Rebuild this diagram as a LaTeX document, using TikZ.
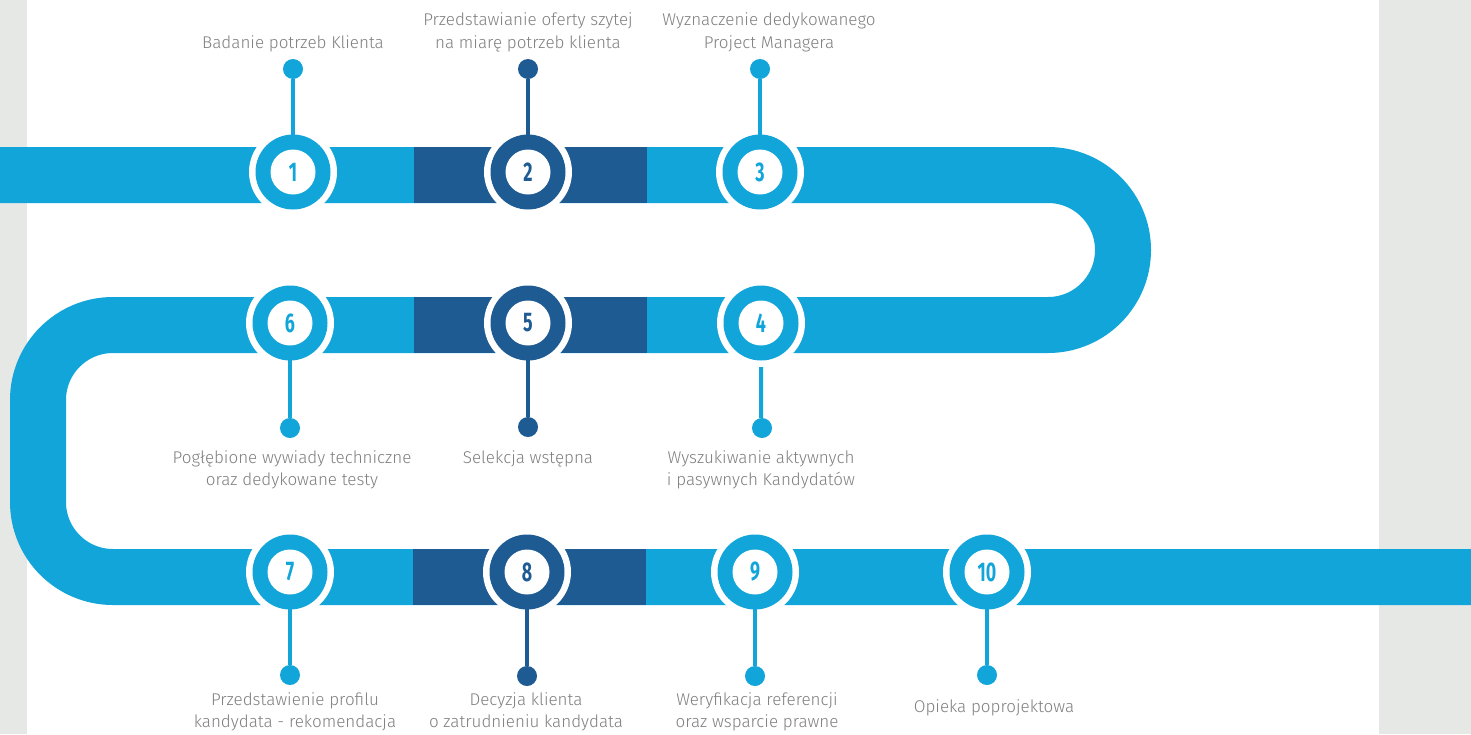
\documentclass[tikz,border=0pt]{standalone}
\usepackage{fontspec}
\setmainfont{Fira Sans Light}
\newfontfamily\numfont{Fira Sans}[FakeStretch=0.66]
\definecolor{lb}{HTML}{12A5D9}
\definecolor{db}{HTML}{1F5B93}
\definecolor{bggray}{HTML}{E6E8E6}
\definecolor{txtgray}{HTML}{7F7F7F}
\tikzset{
  halo/.style={circle, fill=white, minimum size=88pt, inner sep=0pt},
  ring/.style={circle, fill=#1, minimum size=75pt, inner sep=0pt},
  num/.style={circle, fill=white, minimum size=45pt, inner sep=0pt, text=#1,
    font=\numfont\bfseries\fontsize{27}{27}\selectfont},
  pindot/.style={circle, fill=#1, minimum size=20pt, inner sep=0pt},
  pin/.style={draw=#1, line width=4pt},
  lbl/.style={text=txtgray, align=center, font=\fontsize{17}{22.5}\selectfont},
  band/.style={draw=lb, line width=56pt, line cap=butt},
}
\begin{document}
\begin{tikzpicture}[x=1pt,y=-1pt]
\useasboundingbox (0,0) rectangle (1471,734);
% background
\fill[bggray] (0,0) rectangle (1471,734);
\fill[white] (27,0) rectangle (1379,734);
% band
\draw[band] (0,175) -- (1048,175)
  arc[start angle=-90, end angle=90, radius=75] -- (113,325)
  arc[start angle=-90, end angle=-180, radius=75] -- (38,502)
  arc[start angle=180, end angle=90, radius=75] -- (1471,577);
\fill[db] (414,147) rectangle (647,203);
\fill[db] (414,297) rectangle (647,353);
\fill[db] (413,549) rectangle (646,605);
% halos
\node[halo] (h1) at (293,172) {};
\node[halo] (h2) at (528,172) {};
\node[halo] (h3) at (760,172) {};
\node[halo] (h4) at (761,323) {};
\node[halo] (h5) at (528,323) {};
\node[halo] (h6) at (290,323) {};
\node[halo] (h7) at (290,572) {};
\node[halo] (h8) at (527,572) {};
\node[halo] (h9) at (755,572) {};
\node[halo] (h10) at (987,572) {};
% dots
\node[pindot=lb] (d1) at (293,69) {};
\node[pindot=db] (d2) at (528,69) {};
\node[pindot=lb] (d3) at (760,69) {};
\node[pindot=lb] (d4) at (762,428) {};
\node[pindot=db] (d5) at (528,427) {};
\node[pindot=lb] (d6) at (290,428) {};
\node[pindot=lb] (d7) at (290,675) {};
\node[pindot=db] (d8) at (527,676) {};
\node[pindot=lb] (d9) at (755,676) {};
\node[pindot=lb] (d10) at (987,675) {};
% pins
\draw[pin=lb] (d1) -- (h1.center);
\draw[pin=db] (d2) -- (h2.center);
\draw[pin=lb] (d3) -- (h3.center);
\draw[pin=lb, shorten >=44pt] (d4) -- (h4.center |- d4.north) -- (h4.center);
\draw[pin=db] (d5) -- (h5.center);
\draw[pin=lb] (d6) -- (h6.center);
\draw[pin=lb] (d7) -- (h7.center);
\draw[pin=db] (d8) -- (h8.center);
\draw[pin=lb] (d9) -- (h9.center);
\draw[pin=lb] (d10) -- (h10.center);
% rings and numbers
\node[ring=lb] (c1) at (h1) {}; \node[num=lb] (n1) at (c1) {1};
\node[ring=db] (c2) at (h2) {}; \node[num=db] (n2) at (c2) {2};
\node[ring=lb] (c3) at (h3) {}; \node[num=lb] (n3) at (c3) {3};
\node[ring=lb] (c4) at (h4) {}; \node[num=lb] (n4) at (c4) {4};
\node[ring=db] (c5) at (h5) {}; \node[num=db] (n5) at (c5) {5};
\node[ring=lb] (c6) at (h6) {}; \node[num=lb] (n6) at (c6) {6};
\node[ring=lb] (c7) at (h7) {}; \node[num=lb] (n7) at (c7) {7};
\node[ring=db] (c8) at (h8) {}; \node[num=db] (n8) at (c8) {8};
\node[ring=lb] (c9) at (h9) {}; \node[num=lb] (n9) at (c9) {9};
\node[ring=lb] (c10) at (h10) {}; \node[num=lb] (n10) at (c10) {10};
% labels
\node[lbl] (t1) at (293,44) {Badanie potrzeb Klienta};
\node[lbl] (t2) at (528,32.5) {Przedstawianie oferty szytej\\na miarę potrzeb klienta};
\node[lbl] (t3) at (769,32.5) {Wyznaczenie dedykowanego\\Project Managera};
\node[lbl] (t6) at (292,470) {Pogłębione wywiady techniczne\\oraz dedykowane testy};
\node[lbl] (t5) at (528,459) {Selekcja wstępna};
\node[lbl] (t4) at (761,470) {Wyszukiwanie aktywnych\\i pasywnych Kandydatów};
\node[lbl] (t7) at (295,712) {Przedstawienie profilu\\kandydata - rekomendacja};
\node[lbl] (t8) at (526,712) {Decyzja klienta\\o zatrudnieniu kandydata};
\node[lbl] (t9) at (757,712) {Weryfikacja referencji\\oraz wsparcie prawne};
\node[lbl] (t10) at (994,708) {Opieka poprojektowa};
\end{tikzpicture}
\end{document}
